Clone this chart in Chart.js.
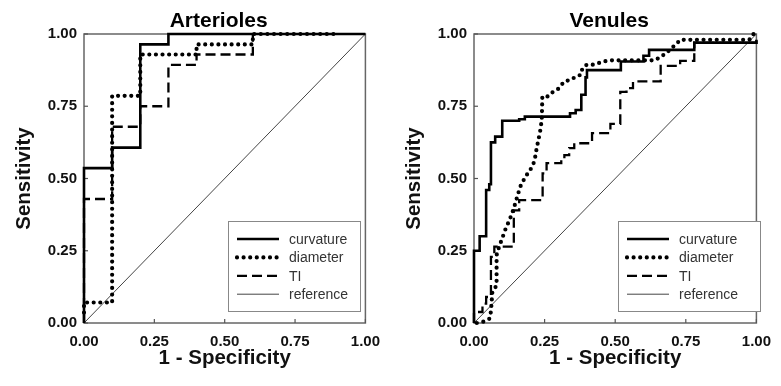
<!DOCTYPE html>
<html>
<head>
<meta charset="utf-8">
<script src="https://cdn.jsdelivr.net/npm/chart.js@4.4.1/dist/chart.umd.min.js"></script>
<style>
  html, body { margin: 0; padding: 0; background: #fff; }
  canvas { position: absolute; top: 0; }
  #c1 { left: 0; }
  #c2 { left: 390px; }
</style>
</head>
<body>
<canvas id="c1" width="390" height="386"></canvas>
<canvas id="c2" width="391" height="386"></canvas>
<script>
// ---------- data ----------
const tickValues = [0, 0.25, 0.5, 0.75, 1];
const seriesNames = ['curvature', 'diameter', 'TI', 'reference'];
const panelTitles = ['Arterioles', 'Venules'];
const xAxisTitle = '1 - Specificity';
const yAxisTitle = 'Sensitivity';

// Arterioles
const artCurvX = [0, 0, 0.1, 0.2, 0.3, 1.0];
const artCurvY = [0, 0.536, 0.607, 0.964, 1.0, 1.0];
const artDiamX = [0, 0, 0.1, 0.2, 0.4, 0.6, 0.9];
const artDiamY = [0.036, 0.071, 0.786, 0.929, 0.964, 1.0, 1.0];
const artTiX = [0, 0, 0.1, 0.2, 0.3, 0.4, 0.6];
const artTiY = [0, 0.429, 0.679, 0.75, 0.893, 0.929, 1.0];

// Venules
const venCurvX = [0, 0, 0.02, 0.043, 0.054, 0.06, 0.075, 0.10, 0.16, 0.18, 0.34, 0.36, 0.38, 0.395, 0.40, 0.52, 0.60, 0.62, 0.78, 1.0];
const venCurvY = [0, 0.25, 0.30, 0.46, 0.48, 0.625, 0.645, 0.70, 0.705, 0.714, 0.726, 0.737, 0.79, 0.85, 0.875, 0.905, 0.925, 0.945, 0.97, 0.98];
const venDiamX = [0.01, 0.035, 0.055, 0.06, 0.065, 0.08, 0.08, 0.089, 0.10, 0.11, 0.128, 0.141, 0.153, 0.164, 0.182, 0.199, 0.211, 0.217, 0.222, 0.228, 0.234, 0.24, 0.242, 0.262, 0.28, 0.297, 0.32, 0.344, 0.361, 0.379, 0.384, 0.40, 0.424, 0.459, 0.483, 0.64, 0.66, 0.683, 0.72, 0.73, 0.975, 0.99];
const venDiamY = [0.0, 0.005, 0.015, 0.04, 0.107, 0.13, 0.235, 0.264, 0.293, 0.321, 0.362, 0.397, 0.437, 0.472, 0.506, 0.529, 0.553, 0.576, 0.605, 0.633, 0.662, 0.703, 0.784, 0.784, 0.80, 0.809, 0.836, 0.842, 0.853, 0.859, 0.882, 0.894, 0.894, 0.905, 0.909, 0.909, 0.92, 0.936, 0.969, 0.98, 0.98, 1.0];
const venTiX = [0, 0, 0.03, 0.043, 0.06, 0.072, 0.141, 0.16, 0.243, 0.257, 0.309, 0.32, 0.337, 0.355, 0.418, 0.483, 0.518, 0.54, 0.563, 0.661, 0.73, 0.78, 1.0];
const venTiY = [0, 0.038, 0.067, 0.09, 0.229, 0.264, 0.39, 0.425, 0.518, 0.553, 0.567, 0.581, 0.605, 0.622, 0.657, 0.689, 0.80, 0.813, 0.836, 0.89, 0.907, 0.969, 0.98];

// reference diagonal
const refX = [0, 1];
const refY = [0, 1];

// ---------- helpers ----------
const pts = (xs, ys) => xs.map((x, i) => ({ x: x, y: ys[i] }));
const FONT = '"Liberation Sans", Arial, Helvetica, sans-serif';

function makeDatasets(cx, cy, dx, dy, tx, ty, diamStepped) {
  return [
    { label: seriesNames[0], data: pts(cx, cy), borderColor: '#000', borderWidth: 2.6,
      stepped: 'before', pointRadius: 0, clip: 6, borderCapStyle: 'butt' },
    { label: seriesNames[1], data: pts(dx, dy), borderColor: '#000', borderWidth: 4.2,
      borderDash: [0, 6.6], borderCapStyle: 'round', stepped: diamStepped,
      pointRadius: 0, clip: 6 },
    { label: seriesNames[2], data: pts(tx, ty), borderColor: '#000', borderWidth: 2.3,
      borderDash: [10, 5], borderCapStyle: 'butt', stepped: 'before', pointRadius: 0, clip: 6 },
    { label: seriesNames[3], data: pts(refX, refY), borderColor: '#444', borderWidth: 1,
      pointRadius: 0, clip: 6 }
  ];
}

const framePlugin = {
  id: 'frameTicks',
  beforeDatasetsDraw(chart) {
    const { ctx, chartArea: a, scales } = chart;
    ctx.save();
    ctx.strokeStyle = '#666';
    ctx.lineWidth = 1.5;
    ctx.strokeRect(a.left, a.top, a.right - a.left, a.bottom - a.top);
    ctx.lineWidth = 1.2;
    ctx.strokeStyle = '#555';
    tickValues.forEach(v => {
      const px = scales.x.getPixelForValue(v);
      ctx.beginPath(); ctx.moveTo(px, a.bottom); ctx.lineTo(px, a.bottom - 4); ctx.stroke();
      const py = scales.y.getPixelForValue(v);
      ctx.beginPath(); ctx.moveTo(a.left, py); ctx.lineTo(a.left + 4, py); ctx.stroke();
    });
    ctx.restore();
  },
  afterDraw(chart) {
    const { ctx, chartArea: a } = chart;
    const o = chart.options.plugins.frameTicks;
    ctx.save();
    // panel title
    ctx.fillStyle = '#000';
    ctx.font = 'bold 21px ' + FONT;
    ctx.textAlign = 'center';
    ctx.textBaseline = 'alphabetic';
    ctx.fillText(o.title, (a.left + a.right) / 2 - 6, 27);
    // legend box
    const bx = a.left + 144, by = a.top + 187, bw = o.legendWidth, bh = 90;
    ctx.fillStyle = '#fff';
    ctx.fillRect(bx, by, bw, bh);
    ctx.strokeStyle = '#888';
    ctx.lineWidth = 1;
    ctx.strokeRect(bx + 0.5, by + 0.5, bw, bh);
    ctx.font = '14px ' + FONT;
    ctx.textAlign = 'left';
    ctx.textBaseline = 'middle';
    chart.data.datasets.forEach((ds, i) => {
      const ry = by + 18 + i * 18.4;
      ctx.save();
      ctx.strokeStyle = ds.borderColor;
      ctx.lineWidth = ds.borderWidth;
      ctx.lineCap = ds.borderCapStyle || 'butt';
      ctx.setLineDash(ds.borderDash || []);
      ctx.beginPath();
      ctx.moveTo(bx + 9, ry);
      ctx.lineTo(bx + 51, ry);
      ctx.stroke();
      ctx.restore();
      ctx.fillStyle = '#333';
      ctx.fillText(ds.label, bx + 61, ry + 1);
    });
    ctx.restore();
  }
};

function makeChart(id, title, datasets, rightPad, legendWidth) {
  return new Chart(document.getElementById(id), {
    type: 'line',
    data: { datasets: datasets },
    plugins: [framePlugin],
    options: {
      responsive: false,
      animation: false,
      devicePixelRatio: 1,
      layout: { padding: { left: 0, right: rightPad, top: 34, bottom: 0 } },
      plugins: {
        legend: { display: false },
        tooltip: { enabled: false },
        title: { display: false },
        frameTicks: { title: title, legendWidth: legendWidth }
      },
      scales: {
        x: {
          type: 'linear', min: 0, max: 1,
          afterBuildTicks: s => { s.ticks = tickValues.map(v => ({ value: v })); },
          afterFit: s => { s.height = 63; },
          grid: { display: false, drawTicks: false },
          border: { display: false },
          ticks: {
            padding: 10, color: '#111',
            font: { family: FONT, size: 15, weight: 'bold' },
            callback: v => Number(v).toFixed(2),
            maxRotation: 0, autoSkip: false
          },
          title: {
            display: true, text: xAxisTitle, color: '#111',
            font: { family: FONT, size: 20.5, weight: 'bold' },
            padding: { top: 0, bottom: 15 }
          }
        },
        y: {
          type: 'linear', min: 0, max: 1,
          afterBuildTicks: s => { s.ticks = tickValues.map(v => ({ value: v })); },
          afterFit: s => { s.width = 84; },
          grid: { display: false, drawTicks: false },
          border: { display: false },
          ticks: {
            padding: 7, color: '#111',
            font: { family: FONT, size: 15, weight: 'bold' },
            callback: v => Number(v).toFixed(2),
            autoSkip: false
          },
          title: {
            display: true, text: yAxisTitle, color: '#111',
            font: { family: FONT, size: 20.5, weight: 'bold' },
            padding: { top: 12, bottom: 0 }
          }
        }
      }
    }
  });
}

makeChart('c1', panelTitles[0],
  makeDatasets(artCurvX, artCurvY, artDiamX, artDiamY, artTiX, artTiY, 'before'), 18, 132);
makeChart('c2', panelTitles[1],
  makeDatasets(venCurvX, venCurvY, venDiamX, venDiamY, venTiX, venTiY, false), 19, 142);
</script>
</body>
</html>
